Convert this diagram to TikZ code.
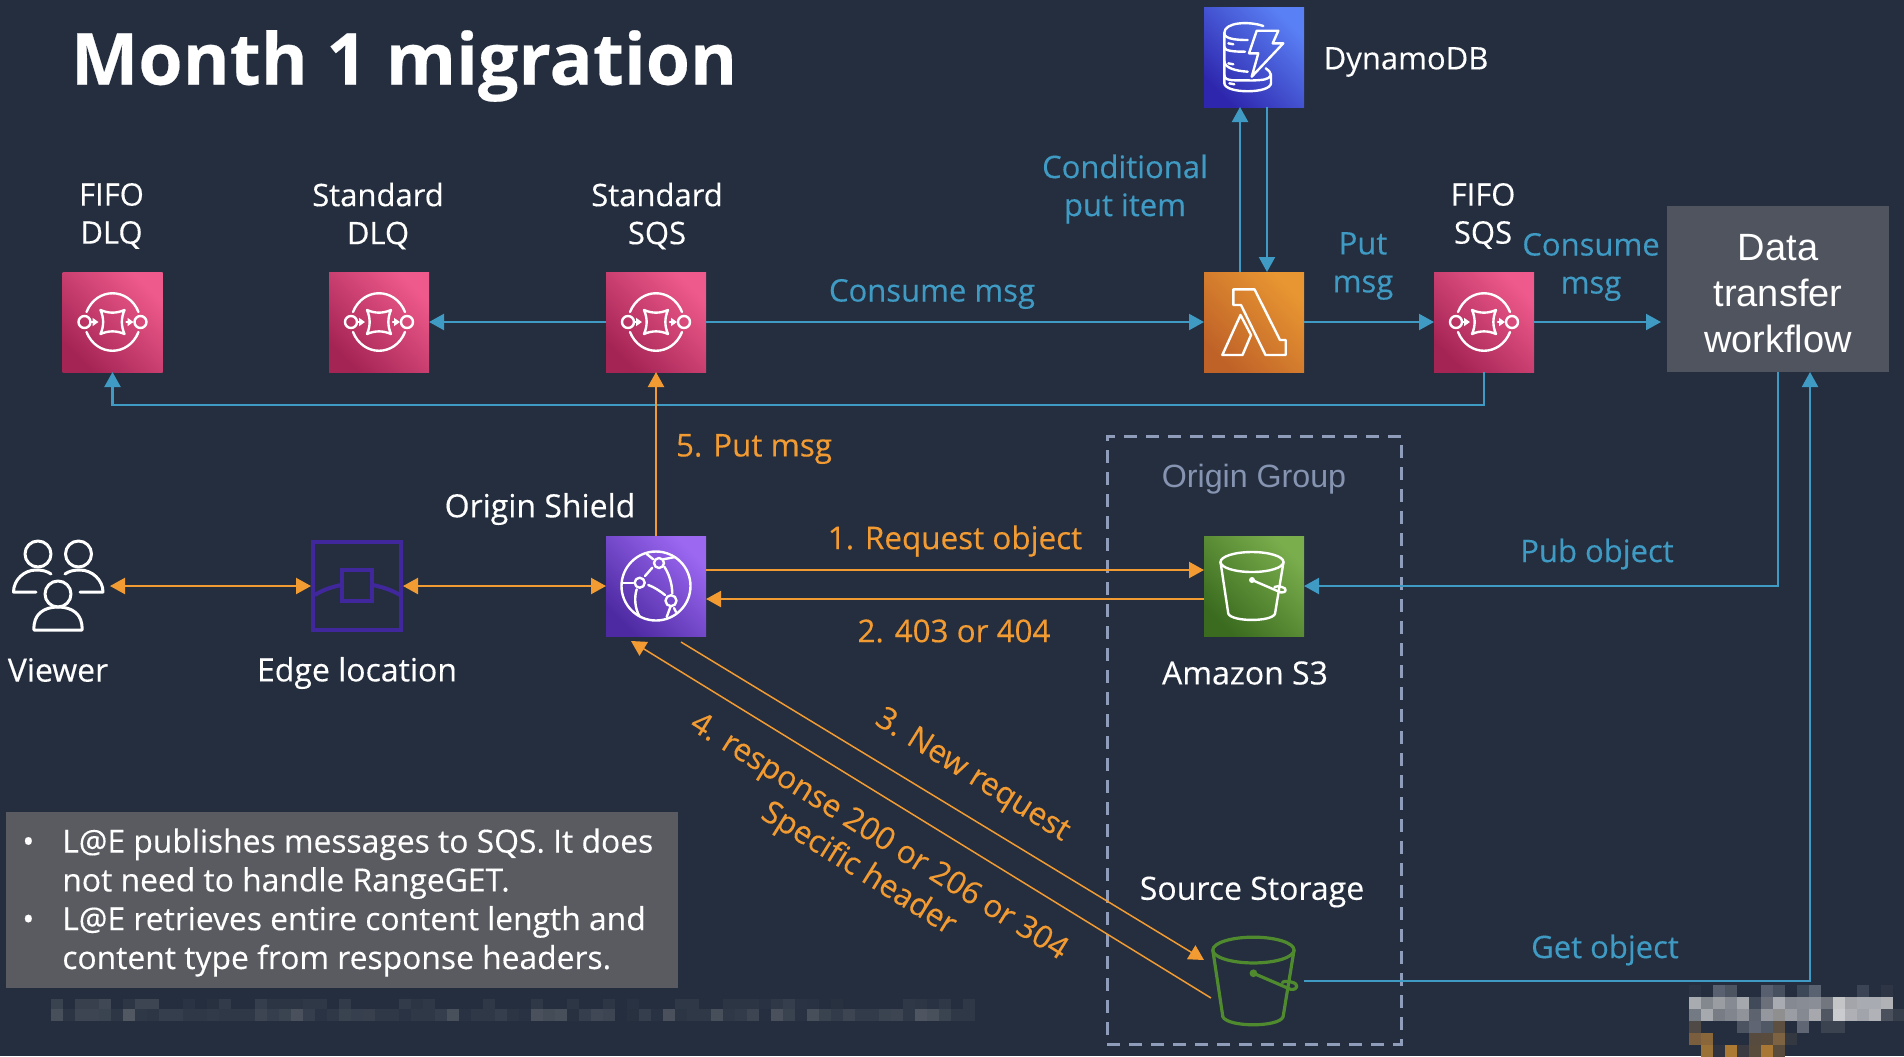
\documentclass[tikz,border=0pt]{standalone}
\usepackage{fontspec}
\setmainfont{Open Sans}[FakeBold=0.3]
\newfontfamily\arialfont{Liberation Sans}
\usetikzlibrary{arrows.meta,calc,positioning}

\definecolor{bgdark}{HTML}{242E3E}
\definecolor{flowblue}{HTML}{3F9BC4}
\definecolor{floworange}{HTML}{F29B32}
\definecolor{groupgrey}{HTML}{8F9DBB}
\definecolor{groupname}{HTML}{8694B2}
\definecolor{edgeviolet}{HTML}{40289C}
\definecolor{srcgreen}{HTML}{4F8A2E}
\definecolor{boxgrey}{HTML}{50545F}
\definecolor{infogrey}{HTML}{595B61}
\definecolor{blurgrey}{HTML}{B0B0B0}
\definecolor{mosaic}{HTML}{000000}

\tikzset{
  whitelabel/.style={text=white,font=\fontsize{15.5}{19}\selectfont,align=center,inner sep=0pt},
  widelabel/.style={text=white,font=\fontsize{16}{19}\selectfont,align=center,inner sep=0pt},
  bluelabel/.style={text=flowblue,font=\fontsize{15.5}{19}\selectfont,align=center,inner sep=0pt},
  orangelabel/.style={text=floworange,font=\fontsize{15.7}{19}\selectfont,align=center,inner sep=0pt},
  icon/.style={minimum size=50pt,inner sep=0pt,outer sep=0pt,bottom color=#1,shading angle=-45},
  sqsicon/.style={icon=pinkdark,top color=pinklight,shading angle=-45},
  blueflow/.style={draw=flowblue,line width=1.1pt,-{Triangle[length=7.5pt,width=8pt]}},
  orangeflow/.style={draw=floworange,line width=1.1pt,-{Triangle[length=7.5pt,width=8pt]}},
  orangeboth/.style={draw=floworange,line width=1.1pt,{Triangle[length=7.5pt,width=8pt]}-{Triangle[length=7.5pt,width=8pt]}},
  glyphline/.style={white,line width=1.2pt,line join=round,line cap=round},
  sqsglyph/.pic={
    \draw (-26,-10) .. controls (-16,-35) and (16,-35) .. (26,-10);
    \draw (-26,10) .. controls (-16,35) and (16,35) .. (26,10);
    \draw (-28,0) circle (6);
    \draw (28,0) circle (6);
    \draw (-12,-12) .. controls (-4,-8.5) and (4,-8.5) .. (12,-12) .. controls (8.5,-4) and (8.5,4) .. (12,12)
      .. controls (4,8.5) and (-4,8.5) .. (-12,12) .. controls (-8.5,4) and (-8.5,-4) .. cycle;
    \draw[-{Triangle[length=3pt,width=4pt]}] (-21,0) -- (-14,0);
    \draw[-{Triangle[length=3pt,width=4pt]}] (14,0) -- (21,0);
  },
  lambdaglyph/.pic={
    \draw (-20.7,-32.7) -- (0.5,-32.7) -- (26,18) -- (31.7,18) -- (31.7,33) -- (11.5,33) -- (-13,-17) -- (-20.7,-17) -- cycle;
    \draw (-13.5,-7) -- (-31.7,33) -- (-11.5,33) -- (-3,13) -- cycle;
  },
  ddbglyph/.pic={
    \draw (9.3,-31) .. controls (-5,-36) and (-29.7,-35) .. (-29.7,-24) -- (-29.7,26);
    \draw (-29.7,-24) .. controls (-29.7,-18) and (-18,-17) .. (-6.3,-17);
    \draw (-29.7,-10) .. controls (-29.7,-6) and (-20,-5.3) .. (-9,-5.3);
    \draw (-29.7,4) .. controls (-29.7,11) and (-18,14) .. (-6.3,14.7);
    \draw (-29.7,18) .. controls (-29.7,25) and (-18,23) .. (-2,23.5) .. controls (8,23) and (15,23) .. (17,18);
    \draw (-29.7,26) .. controls (-29.7,37) and (17,37) .. (17,26) -- (17,18) .. controls (17,15) and (14,13) .. (11.7,11.3);
    \draw (-25.7,-13.7) -- (-20.7,-12.7);
    \draw (-25.7,6.3) -- (-20.7,7.3);
    \draw (-24.7,26.3) -- (-19.7,27.3);
    \draw (2.7,-26.3) -- (24.3,-26.3) -- (18.7,-13.7) -- (29.3,-13.7) -- (-2.3,19.7) -- (4.3,-3.7) -- (-5,-3.7) -- cycle;
  },
  shieldglyph/.pic={
    \draw (0,0) circle (34.5);
    \draw (3,-23) circle (5);
    \draw (-16.3,-3.3) circle (5);
    \draw (15,14.7) circle (5.5);
    \draw (-3.7,-18.3) -- (-11,-10);
    \draw (-7.7,-1) .. controls (-2,1) and (4,5) .. (9,9);
    \draw (8.3,-19.3) .. controls (13,-12) and (16,-3) .. (16.3,7.3);
    \draw (-19.3,3.3) .. controls (-22,12) and (-21,22) .. (-16.7,30);
    \draw (-22.7,-3.3) -- (-33.3,-3.3);
    \draw (-2.7,-26.7) -- (-9.3,-32);
    \draw (7.3,-26.7) -- (19,-29);
    \draw (14.7,20) -- (10.7,31);
    \draw (18,22) -- (20,26);
  },
  bucketglyph/.pic={
    \draw (-2,-24) ellipse [x radius=31.5,y radius=10];
    \draw (-33.5,-24) -- (-25.7,27.7) .. controls (-22,36) and (18,36) .. (21,27.7) -- (29.5,-24);
    \fill (-2,-6) circle (3);
    \draw (-2,-6) -- (27,6.5) .. controls (33,7) and (33,2) .. (28,1) .. controls (25,0) and (22,0) .. (20.5,1);
  },
  viewerglyph/.pic={
    \draw (-20,-32) circle (13);
    \draw (20.5,-32) circle (13);
    \draw (0,8) circle (13);
    \draw (-24,44) .. controls (-25,28) and (-14,21) .. (0,21) .. controls (14,21) and (25,28) .. (24,44) -- cycle;
    \draw (-22,6) -- (-44.5,6) .. controls (-44.5,-6) and (-34,-16) .. (-22,-16) .. controls (-16,-16) and (-11,-15) .. (-7,-12);
    \draw (22,6) -- (45,6) .. controls (45,-6) and (34,-16) .. (22,-16) .. controls (16,-16) and (11,-15) .. (7,-12);
  },
}
\definecolor{pinkdark}{HTML}{A42454}
\definecolor{pinklight}{HTML}{EE5A8B}
\definecolor{lambdadark}{HTML}{BF6228}
\definecolor{lambdalight}{HTML}{E89632}
\definecolor{ddbdark}{HTML}{2E27AD}
\definecolor{ddblight}{HTML}{5A80F5}
\definecolor{greendark}{HTML}{3A6B1F}
\definecolor{greenlight}{HTML}{7AAD4C}
\definecolor{shielddark}{HTML}{4D2AA2}
\definecolor{shieldlight}{HTML}{9C68F2}

\begin{document}
\begin{tikzpicture}[x={(0.5pt,0pt)},y={(0pt,-0.5pt)}]
\path[use as bounding box,fill=bgdark] (0,0) rectangle (1904,1056);

% blurred strip under the notes
\foreach \v [count=\i from 0] in {15,0,14,14,20,0,6,18,18,0,0,4,0,2,10,0,0,12,5,5,5,8,8,0,10,0,0,0,0,10,5,8,0,0,0,0,8,0,0,0,8,0,0,6,0,0,6,0,3,0,0,0,8,8,0,0,5,5,5,3,8,12,4,3,0,2,0,0,0,0,0,8,6,3,8,0,8}
  \fill[blurgrey!\v!bgdark] (51+12*\i,999) rectangle ++(12,10);
\foreach \v [count=\i from 0] in {25,5,18,18,16,6,32,8,6,12,12,8,8,9,8,8,8,18,12,16,27,12,4,8,15,13,14,8,8,4,8,8,12,26,3,8,8,12,5,3,27,23,25,2,12,20,18,0,2,12,3,27,5,8,8,25,8,10,18,1,27,15,3,25,15,10,18,10,10,16,18,8,30,26,16,8,8}
  \fill[blurgrey!\v!bgdark] (51+12*\i,1009) rectangle ++(12,12);

% blurred corner
\foreach \mx/\my/\mc in {0/0/2A3444,2/0/596170,3/0/4C5361,6/0/586070,7/0/46505F,9/0/3C4858,10/0/596270,14/0/3A4454,16/0/2E3646,
  0/1/A8ABB0,1/1/83888F,2/1/9A9DA2,3/1/868A92,4/1/A5A8AD,5/1/414A58,6/1/6B707B,7/1/A9ABB3,8/1/858A92,9/1/888C94,10/1/8A8E96,11/1/71767F,12/1/C4C5C6,13/1/A3A5AB,14/1/A9ABB2,15/1/A9ABB2,16/1/B0B2B6,
  0/2/747A84,1/2/A6A9AE,2/2/777C85,3/2/81868E,4/2/90949A,5/2/5D6470,6/2/94979D,7/2/8F8F90,8/2/9A9DA3,9/2/858991,10/2/A6A8AE,11/2/505662,12/2/C9CBCE,13/2/AEB0B5,14/2/A2A4AB,15/2/B0B2B7,16/2/4A505C,17/2/363E4C,
  0/3/4F4A45,4/3/4C5461,5/3/5F6573,6/3/515865,7/3/5E5040,9/3/606673,11/3/3B4350,12/3/3B4350,
  0/4/7A5E3E,1/4/8A673A,5/4/574B3F,6/4/5A4C3C,7/4/7D6342,8/4/343840,
  1/5/9A7238,2/5/2F3440,3/5/AD7A34,4/5/3A3A40,5/5/5A4C3C,6/5/A87834,7/5/5A4C3C}{
  \definecolor{mosaic}{HTML}{\mc}
  \fill[mosaic] (1689+12*\mx,985+12*\my) rectangle ++(12,12);
}

\node[text=white,font=\bfseries\fontsize{35.8}{40}\selectfont,inner sep=0pt] (monthtitle) at (404,66) {Month 1 migration};

% queues, functions and stores
\node[sqsicon] (fifodlq) at (112.5,322) {};
\node[sqsicon] (stddlq) at (379,322) {};
\node[sqsicon] (stdsqs) at (656,322) {};
\node[icon=lambdadark,top color=lambdalight,shading angle=-45] (lambda) at (1254,322) {};
\node[sqsicon] (fifosqs) at (1484,322) {};
\node[icon=ddbdark,top color=ddblight,shading angle=-45] (dynamodb) at (1254,57) {};
\node[icon=shielddark,top color=shieldlight,shading angle=-45] (originshield) at (656,586) {};
\node[icon=greendark,top color=greenlight,shading angle=-45] (amazons3) at (1254,586) {};
\node[fill=boxgrey,minimum width=111pt,minimum height=83pt,inner sep=0pt,outer sep=0pt] (datatransfer) at (1778,289) {};
\node[text=white,font=\arialfont\fontsize{19}{23}\selectfont,align=center,inner sep=0pt] (datatext) at (1778,294) {Data\\transfer\\workflow};
\node[draw=edgeviolet,line width=2pt,minimum width=44pt,minimum height=44pt,inner sep=0pt,outer sep=1pt] (edgebox) at (357,586) {};
\node[minimum width=52pt,minimum height=49pt,inner sep=0pt,outer sep=0pt] (viewer) at (58,586) {};
\node[minimum width=52pt,minimum height=45pt,inner sep=0pt,outer sep=0pt] (sourcebkt) at (1252,981) {};
\node[draw=groupgrey,line width=1.5pt,dash pattern=on 6.5pt off 4.5pt,minimum width=147pt,minimum height=304pt,inner sep=0pt] (origingroup) at (1254,740) {};

\pic[glyphline] at (fifodlq) {sqsglyph};
\pic[glyphline] at (stddlq) {sqsglyph};
\pic[glyphline] at (stdsqs) {sqsglyph};
\pic[glyphline] at (fifosqs) {sqsglyph};
\pic[glyphline] at (lambda) {lambdaglyph};
\pic[glyphline] at (dynamodb) {ddbglyph};
\pic[glyphline] at (originshield) {shieldglyph};
\pic[glyphline] at (amazons3) {bucketglyph};
\pic[glyphline,srcgreen,scale=1.29,line width=1.6pt] at ([xshift=2pt]sourcebkt.center) {bucketglyph};
\pic[glyphline,line width=1.5pt] at (viewer) {viewerglyph};
\draw[edgeviolet,line width=2pt] (342,570) rectangle (372,601);
\draw[edgeviolet,line width=2pt] (315,595) .. controls (322,590) and (332,587) .. (341,585);
\draw[edgeviolet,line width=2pt] (373,585) .. controls (382,587) and (392,590) .. (400,595);

% labels
\node[whitelabel] (fifodlqname) at (111.5,216) {FIFO\\DLQ};
\node[whitelabel] (stddlqname) at (378,216) {Standard\\DLQ};
\node[whitelabel] (stdsqsname) at (657,216) {Standard\\SQS};
\node[whitelabel] (fifosqsname) at (1483,216) {FIFO\\SQS};
\node[whitelabel] (dynamoname) at (1406,62) {DynamoDB};
\node[widelabel] (shieldname) at (540,509) {Origin Shield};
\node[widelabel] (viewername) at (58,670) {Viewer};
\node[widelabel] (edgename) at (357,673) {Edge location};
\node[widelabel] (s3name) at (1245,673) {Amazon S3};
\node[widelabel] (sourcename) at (1252,892) {Source Storage};
\node[text=groupname,font=\arialfont\fontsize{16.1}{19}\selectfont,inner sep=0pt] (groupname) at (1254,479) {Origin Group};

\node[bluelabel] (conditional) at (1125,189) {Conditional\\put item};
\node[bluelabel] (putmsg) at (1363,266) {Put\\msg};
\node[bluelabel] (consumeright) at (1591,267) {Consume\\msg};
\node[bluelabel] (consumemsg) at (932,294) {Consume msg};
\node[bluelabel] (pubobject) at (1597,554) {Pub object};
\node[bluelabel] (getobject) at (1605,950) {Get object};

\node[orangelabel] (putfive) at (754,449) {5. Put msg};
\node[orangelabel] (requestone) at (955,541) {1. Request object};
\node[orangelabel] (errortwo) at (954,631) {2. 403 or 404};
\node[orangelabel,rotate=-32] (newthree) at (972,776) {3. New request};
\node[orangelabel,rotate=-32] (responsefour) at (868,854) {4. response 200 or 206 or 304\\Specific header};

% connectors
\coordinate (newstart) at (681,642);
\coordinate (newend) at (1204,960);
\coordinate (respstart) at (1211,998);
\coordinate (respend) at (631,641);
\draw[blueflow] (stdsqs) -- (stddlq);
\draw[blueflow] (stdsqs) -- (lambda);
\draw[blueflow] (lambda) -- (fifosqs);
\draw[blueflow] (fifosqs) -- ([xshift=-3pt]fifosqs -| datatransfer.west);
\draw[blueflow] ([xshift=-7pt]lambda.north) -- ([xshift=-7pt]dynamodb.south);
\draw[blueflow] ([xshift=6.5pt]dynamodb.south) -- ([xshift=6.5pt]lambda.north);
\draw[blueflow] (fifosqs.south) -- ++(0,33) -| (fifodlq.south);
\draw[blueflow] (datatransfer.south) |- (amazons3.east);
\draw[blueflow] (sourcebkt.east) -| ([xshift=16pt]datatransfer.south);
\draw[orangeflow] (originshield.north) -- (stdsqs.south);
\draw[orangeboth] (viewer.east) -- (edgebox.west);
\draw[orangeboth] (edgebox.east) -- (originshield.west);
\draw[orangeflow] ([yshift=8pt]originshield.east) -- ([yshift=8pt]amazons3.west);
\draw[orangeflow] ([yshift=-6.5pt]amazons3.west) -- ([yshift=-6.5pt]originshield.east);
\draw[orangeflow,line width=.75pt] (newstart) -- (newend);
\draw[orangeflow,line width=.75pt] (respstart) -- (respend);

% notes
\node[fill=infogrey,minimum width=336pt,minimum height=88pt,inner sep=0pt] (infobox) at (342,900) {};
\node[text=white,font=\fontsize{15.9}{19.4}\selectfont,inner sep=0pt,anchor=west] (infotext) at (22,903) {%
\begin{tabular}{@{}l@{\hspace{14pt}}l@{}}
• & L@E publishes messages to SQS. It does\\
  & not need to handle RangeGET.\\
• & L@E retrieves entire content length and\\
  & content type from response headers.
\end{tabular}};
\end{tikzpicture}
\end{document}
